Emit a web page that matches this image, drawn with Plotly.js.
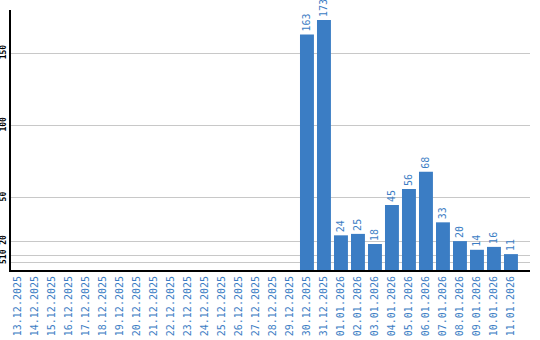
<!DOCTYPE html>
<html><head><meta charset="utf-8">
<script src="https://cdn.plot.ly/plotly-3.0.1.min.js"></script>
<style>html,body{margin:0;padding:0;background:#fff}#c{width:540px;height:340px}</style>
</head><body><div id="c"></div>
<script>
const dates = ["13.12.2025","14.12.2025","15.12.2025","16.12.2025","17.12.2025","18.12.2025","19.12.2025","20.12.2025","21.12.2025","22.12.2025","23.12.2025","24.12.2025","25.12.2025","26.12.2025","27.12.2025","28.12.2025","29.12.2025","30.12.2025","31.12.2025","01.01.2026","02.01.2026","03.01.2026","04.01.2026","05.01.2026","06.01.2026","07.01.2026","08.01.2026","09.01.2026","10.01.2026","11.01.2026"];
const counts = [0,0,0,0,0,0,0,0,0,0,0,0,0,0,0,0,0,163,173,24,25,18,45,56,68,33,20,14,16,11];
const yTicks = [5,10,20,50,100,150];
const blue = '#3b7dc4';
const mono = 'DejaVu Sans Mono';
const trace = {
  type:'bar', x: dates.map((d,i)=>i), y: counts,
  text: counts.map(v => v > 0 ? String(v) : ''),
  textposition:'outside', textangle:-90, cliponaxis:false, constraintext:'none',
  textfont:{family:mono, size:10, color:blue},
  marker:{color:blue}, hoverinfo:'none'
};
const layout = {
  width:540, height:340, margin:{l:11,r:10,t:10,b:70},
  paper_bgcolor:'#fff', plot_bgcolor:'#fff', showlegend:false, bargap:0.18,
  xaxis:{range:[-0.41,30.12], tickmode:'array', tickvals:dates.map((d,i)=>i), ticktext:dates,
    tickangle:-90, tickfont:{family:mono,size:10,color:blue}, showgrid:false, zeroline:false,
    showline:true, linecolor:'#000', linewidth:2, ticks:'', fixedrange:true},
  yaxis:{range:[0,180], tickmode:'array', tickvals:yTicks, tickangle:-90,
    tickfont:{family:mono,size:8,color:'#000',weight:'bold'}, showgrid:true, gridcolor:'#c8c8c8', gridwidth:1,
    zeroline:false, showline:true, linecolor:'#000', linewidth:2, ticks:'', fixedrange:true}
};
Plotly.newPlot('c',[trace],layout,{displayModeBar:false,staticPlot:true});
</script></body></html>
